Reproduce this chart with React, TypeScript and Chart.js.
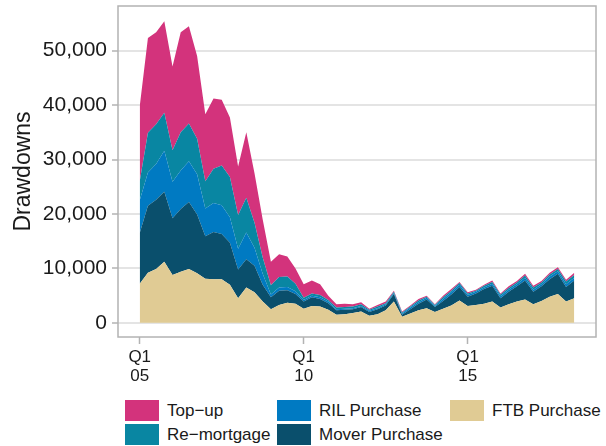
import React, { useEffect, useRef } from "react";
import { Chart, registerables } from "chart.js";

Chart.register(...registerables);

const quarters = [
  "2005 Q1", "2005 Q2", "2005 Q3", "2005 Q4",
  "2006 Q1", "2006 Q2", "2006 Q3", "2006 Q4",
  "2007 Q1", "2007 Q2", "2007 Q3", "2007 Q4",
  "2008 Q1", "2008 Q2", "2008 Q3", "2008 Q4",
  "2009 Q1", "2009 Q2", "2009 Q3", "2009 Q4",
  "2010 Q1", "2010 Q2", "2010 Q3", "2010 Q4",
  "2011 Q1", "2011 Q2", "2011 Q3", "2011 Q4",
  "2012 Q1", "2012 Q2", "2012 Q3", "2012 Q4",
  "2013 Q1", "2013 Q2", "2013 Q3", "2013 Q4",
  "2014 Q1", "2014 Q2", "2014 Q3", "2014 Q4",
  "2015 Q1", "2015 Q2", "2015 Q3", "2015 Q4",
  "2016 Q1", "2016 Q2", "2016 Q3", "2016 Q4",
  "2017 Q1", "2017 Q2", "2017 Q3", "2017 Q4",
  "2018 Q1", "2018 Q2",
];

const ftbPurchase = [
  7200, 9200, 9900, 11200, 8800, 9400, 9900, 9100, 8100, 8000, 8000, 7000, 4500, 6500, 5600, 3900,
  2500, 3300, 3700, 3500, 2600, 3100, 3000, 2400, 1500, 1600, 1800, 2100, 1300, 1600, 2300, 3900,
  1100, 1700, 2300, 2700, 2000, 2600, 3200, 4100, 3100, 3300, 3500, 3900, 2800, 3400, 3900, 4300,
  3400, 4000, 4800, 5300, 3900, 4500,
];
const moverPurchase = [
  9300, 12300, 12700, 12900, 10400, 11500, 12300, 10800, 7800, 8700, 8300, 7700, 5300, 5200, 4900, 3100,
  2200, 2600, 2300, 1800, 1300, 1600, 1400, 1200, 800, 800, 700, 800, 700, 900, 900, 1400,
  400, 800, 1200, 1600, 900, 1400, 2000, 2500, 1700, 2100, 2700, 2900, 1700, 2300, 2800, 3500,
  2300, 2700, 3200, 3700, 2700, 3300,
];
const rilPurchase = [
  6000, 6100, 6600, 7500, 6700, 7100, 7500, 7400, 5100, 5300, 5300, 4700, 3800, 4900, 3300, 2000,
  500, 600, 600, 500, 300, 300, 300, 300, 200, 200, 200, 200, 200, 200, 200, 200,
  200, 300, 300, 300, 200, 400, 400, 400, 300, 300, 300, 400, 400, 400, 400, 500,
  400, 400, 500, 500, 500, 500,
];
const reMortgage = [
  3500, 7300, 7300, 7000, 5800, 7000, 6900, 6500, 5000, 6300, 7300, 7400, 6200, 6400, 4600, 3000,
  1700, 1900, 1900, 1400, 400, 400, 400, 300, 300, 300, 300, 300, 200, 300, 200, 200,
  200, 200, 300, 200, 200, 300, 300, 300, 300, 200, 300, 300, 300, 300, 300, 400,
  400, 300, 400, 400, 500, 500,
];
const topUp = [
  13800, 17400, 16900, 16800, 15400, 18400, 17900, 15200, 12300, 12900, 12100, 10900, 8900, 12000, 9100, 7000,
  4300, 4200, 3700, 2800, 2500, 2400, 2000, 800, 600, 600, 400, 400, 200, 300, 300, 200,
  200, 200, 300, 200, 100, 300, 300, 200, 200, 200, 200, 300, 200, 300, 300, 300,
  300, 300, 300, 300, 300, 400,
];

const xTickPositions = [0, 20, 40];
const xTickLabels = [["Q1", "05"], ["Q1", "10"], ["Q1", "15"]];
const yTicks = [0, 10000, 20000, 30000, 40000, 50000];

const seriesNames = ["FTB Purchase", "Mover Purchase", "RIL Purchase", "Re\u2212mortgage", "Top\u2212up"];
const seriesColors = ["#E0CB94", "#0A4F6C", "#007AC2", "#0986A2", "#D3337C"];
const seriesData = [ftbPurchase, moverPurchase, rilPurchase, reMortgage, topUp];

const legendOrder = [4, 3, 2, 1, 0]; // column-major: Top-up, Re-mortgage | RIL, Mover | FTB

const FONT = "'Liberation Sans', Arial, Helvetica, sans-serif";
const TEXT = "#1a1a1a";

const boxPlugin = {
  id: "panelBox",
  afterDatasetsDraw(chart: any) {
    const { ctx, chartArea } = chart;
    ctx.save();
    ctx.strokeStyle = "#b3b3b3";
    ctx.lineWidth = 1.5;
    ctx.strokeRect(chartArea.left, chartArea.top, chartArea.right - chartArea.left, chartArea.bottom - chartArea.top);
    ctx.restore();
  },
};

export default function App() {
  const ref = useRef<HTMLCanvasElement | null>(null);

  useEffect(() => {
    if (!ref.current) return;
    const datasets = seriesData.map((arr, k) => ({
      label: seriesNames[k],
      data: arr.map((v, i) => ({ x: i, y: v })),
      backgroundColor: seriesColors[k],
      borderColor: seriesColors[k],
      borderWidth: 0,
      pointRadius: 0,
      tension: 0,
      fill: k === 0 ? "origin" : "-1",
    }));
    const chart = new Chart(ref.current, {
      type: "line",
      data: { labels: quarters, datasets },
      options: {
        animation: false,
        responsive: false,
        maintainAspectRatio: false,
        layout: { padding: { top: 6, right: 10, left: 0, bottom: 0 } },
        plugins: { legend: { display: false }, tooltip: { enabled: false } },
        scales: {
          x: {
            type: "linear",
            min: -2.65,
            max: 55.65,
            afterBuildTicks: (s: any) => {
              s.ticks = xTickPositions.map((v) => ({ value: v }));
            },
            afterFit: (s: any) => {
              s.height = 396 - 337;
              s.paddingLeft = 0;
              s.paddingRight = 0;
            },
            ticks: {
              autoSkip: false,
              maxRotation: 0,
              padding: 4,
              color: TEXT,
              font: { family: FONT, size: 17, lineHeight: 1.1 },
              callback: (v: any) => {
                const idx = xTickPositions.indexOf(Number(v));
                return idx >= 0 ? xTickLabels[idx] : null;
              },
            },
            grid: { drawOnChartArea: false, tickLength: 7, tickColor: "#b3b3b3", tickWidth: 1.5 },
            border: { display: false },
          },
          y: {
            stacked: true,
            min: -2600,
            max: 58200,
            afterBuildTicks: (s: any) => {
              s.ticks = yTicks.map((v) => ({ value: v }));
            },
            afterFit: (s: any) => {
              s.width = 118;
              s.paddingTop = 0;
              s.paddingBottom = 0;
            },
            ticks: {
              padding: 5,
              color: TEXT,
              font: { family: FONT, size: 21 },
              callback: (v: any) => Number(v).toLocaleString("en-US"),
            },
            grid: { color: "#e4e4e4", lineWidth: 2, tickLength: 6, tickColor: "#b3b3b3", tickWidth: 1.5 },
            border: { display: false },
            title: {
              display: true,
              text: "Drawdowns",
              color: TEXT,
              font: { family: FONT, size: 23 },
              padding: { top: 10, bottom: 0 },
            },
          },
        },
      },
      plugins: [boxPlugin],
    });
    return () => chart.destroy();
  }, []);

  const colLefts = [125, 277, 450];
  const rowTops = [400, 424];

  return (
    <div style={{ position: "fixed", left: 0, top: 0, width: 606, height: 446, background: "#fff", fontFamily: FONT }}>
      <canvas ref={ref} width={606} height={396} style={{ position: "absolute", left: 0, top: 0, width: 606, height: 396 }} />
      {legendOrder.map((k, n) => {
        const col = Math.floor(n / 2);
        const row = n % 2;
        return (
          <div
            key={k}
            style={{
              position: "absolute",
              left: colLefts[col],
              top: rowTops[row],
              height: 21,
              display: "flex",
              alignItems: "center",
              whiteSpace: "nowrap",
            }}
          >
            <div style={{ width: 34, height: 21, background: seriesColors[k], marginRight: 8 }} />
            <span style={{ fontSize: 17, color: TEXT, lineHeight: "21px" }}>{seriesNames[k]}</span>
          </div>
        );
      })}
    </div>
  );
}
